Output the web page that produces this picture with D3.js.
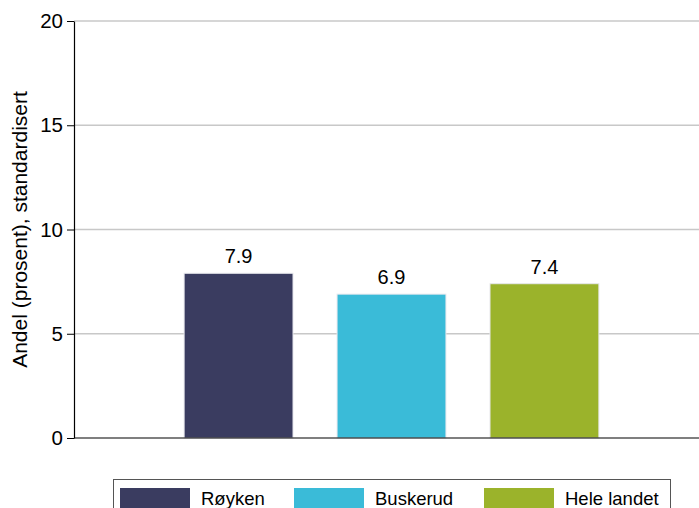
<!DOCTYPE html>
<html>
<head>
<meta charset="utf-8">
<script src="https://cdn.jsdelivr.net/npm/d3@7"></script>
<style>
  html, body { margin: 0; padding: 0; background: #fff; }
  svg { display: block; font-family: "Liberation Sans", Arial, sans-serif; }
  .axis path, .axis line { stroke: #000; }
  .grid line { stroke: #c8c8c8; stroke-width: 1.5; }
</style>
</head>
<body>
<div id="chart"></div>
<script>
var categories = ["Røyken", "Buskerud", "Hele landet"];
var values     = [7.9, 6.9, 7.4];
var colors     = ["#3a3c60", "#3abbd8", "#9bb32b"];
var yTicks     = [0, 5, 10, 15, 20];

(function() {
  var width = 699, height = 508;

  var svg = d3.select("#chart").append("svg")
      .attr("width", width)
      .attr("height", height);

  // Scales: plot runs from x=74, y 438 (0) to 21 (20)
  var y = d3.scaleLinear().domain([0, 20]).range([438, 21]);
  var x = d3.scaleBand()
      .domain(categories)
      .range([74, 709])
      .paddingInner(0.288)
      .paddingOuter(0.72);

  // Gridlines
  svg.append("g").attr("class", "grid")
    .selectAll("line")
      .data(yTicks.filter(function(d) { return d > 0; }))
    .enter().append("line")
      .attr("x1", 74).attr("x2", width)
      .attr("y1", function(d) { return y(d); })
      .attr("y2", function(d) { return y(d); });

  // Bars
  svg.append("g").selectAll("rect")
      .data(values)
    .enter().append("rect")
      .attr("x", function(d, i) { return x(categories[i]); })
      .attr("y", function(d) { return y(d); })
      .attr("width", x.bandwidth())
      .attr("height", function(d) { return y(0) - y(d); })
      .attr("fill", function(d, i) { return colors[i]; })
      .attr("stroke", "#e8e8ee")
      .attr("stroke-width", 1);

  // Value labels
  svg.append("g").selectAll("text")
      .data(values)
    .enter().append("text")
      .attr("x", function(d, i) { return x(categories[i]) + x.bandwidth() / 2; })
      .attr("y", function(d) { return y(d) - 10; })
      .attr("text-anchor", "middle")
      .attr("font-size", 20)
      .attr("fill", "#000")
      .text(function(d) { return d3.format(".1f")(d); });

  // Y axis
  var yAxis = svg.append("g")
      .attr("class", "axis")
      .attr("transform", "translate(74,0)")
      .call(d3.axisLeft(y).tickValues(yTicks).tickSize(7).tickSizeOuter(0).tickPadding(4));
  yAxis.attr("font-size", null).attr("font-family", null);
  yAxis.selectAll("text").attr("font-size", 20.5).attr("fill", "#000");
  yAxis.select(".domain").attr("stroke-width", 1.2);

  // X axis baseline
  svg.append("line")
      .attr("x1", 74).attr("x2", width)
      .attr("y1", y(0)).attr("y2", y(0))
      .attr("stroke", "#000").attr("stroke-width", 1.2);

  // Y label
  svg.append("text")
      .attr("transform", "translate(27," + ((y(0) + y(20)) / 2) + ") rotate(-90)")
      .attr("text-anchor", "middle")
      .attr("font-size", 21)
      .attr("fill", "#000")
      .text("Andel (prosent), standardisert");

  // Legend
  var legend = svg.append("g");
  legend.append("rect")
      .attr("x", 113.5).attr("y", 479.5)
      .attr("width", 557).attr("height", 40)
      .attr("fill", "none").attr("stroke", "#555").attr("stroke-width", 1);

  var legendX = [120, 294, 484];
  var items = legend.selectAll("g.item")
      .data(categories)
    .enter().append("g")
      .attr("class", "item")
      .attr("transform", function(d, i) { return "translate(" + legendX[i] + ",488)"; });

  items.append("rect")
      .attr("width", 70).attr("height", 20)
      .attr("fill", function(d, i) { return colors[i]; });

  items.append("text")
      .attr("x", 81).attr("y", 17)
      .attr("font-size", 18.5)
      .attr("fill", "#000")
      .text(function(d) { return d; });
})();
</script>
</body>
</html>
